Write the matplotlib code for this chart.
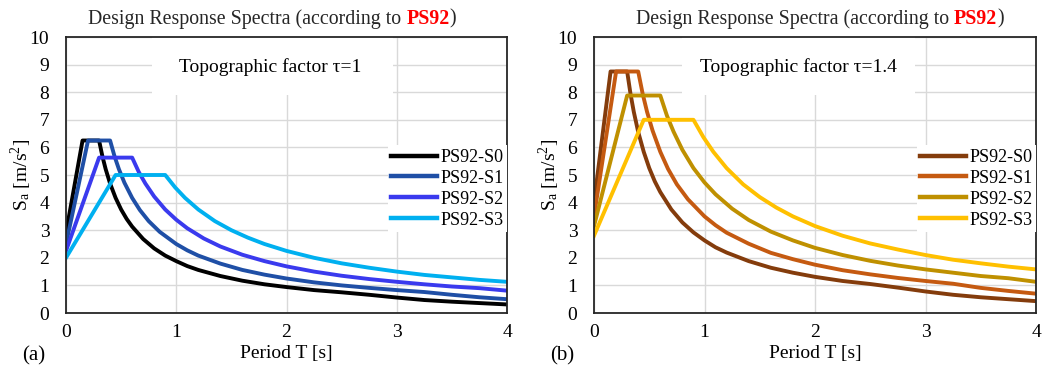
import matplotlib
matplotlib.use('Agg')
import matplotlib.pyplot as plt
from matplotlib.patches import Rectangle
from matplotlib.offsetbox import TextArea, HPacker, AnchoredOffsetbox

plt.rcParams['font.family'] = ['Liberation Serif', 'DejaVu Serif']
plt.rcParams['mathtext.fontset'] = 'stix'

# period values (same for both panels)
T_S0 = [0, 0.15, 0.30, 0.33, 0.36, 0.40, 0.45, 0.50, 0.55, 0.60, 0.70, 0.80, 0.90, 1.0, 1.1, 1.2, 1.4, 1.6, 1.8, 2.0, 2.25, 2.5, 2.75, 3.0, 3.25, 3.5, 3.75, 4.0]
T_S1 = [0, 0.2, 0.4, 0.44, 0.48, 0.53, 0.6, 0.67, 0.75, 0.85, 1.0, 1.1, 1.2, 1.4, 1.6, 1.8, 2.0, 2.25, 2.5, 2.75, 3.0, 3.25, 3.5, 3.75, 4.0]
T_S2 = [0, 0.3, 0.6, 0.66, 0.72, 0.8, 0.9, 1.0, 1.1, 1.25, 1.4, 1.6, 1.8, 2.0, 2.25, 2.5, 2.75, 3.0, 3.25, 3.5, 3.75, 4.0]
T_S3 = [0, 0.45, 0.9, 0.99, 1.08, 1.2, 1.35, 1.5, 1.65, 1.8, 2.0, 2.25, 2.5, 2.75, 3.0, 3.25, 3.5, 3.75, 4.0]

# (a) topographic factor 1
Sa_a_S0 = [2.9, 6.25, 6.25, 5.68, 5.21, 4.69, 4.17, 3.75, 3.41, 3.13, 2.68, 2.34, 2.08, 1.88, 1.70, 1.56, 1.34, 1.17, 1.04, 0.94, 0.83, 0.75, 0.66, 0.56, 0.47, 0.41, 0.36, 0.31]
Sa_a_S1 = [2.5, 6.25, 6.25, 5.68, 5.21, 4.72, 4.17, 3.73, 3.33, 2.94, 2.5, 2.27, 2.08, 1.79, 1.56, 1.39, 1.25, 1.11, 1.0, 0.91, 0.83, 0.76, 0.66, 0.57, 0.5]
Sa_a_S2 = [2.25, 5.63, 5.63, 5.11, 4.69, 4.22, 3.75, 3.38, 3.07, 2.7, 2.41, 2.11, 1.88, 1.69, 1.5, 1.35, 1.23, 1.13, 1.04, 0.96, 0.9, 0.81]
Sa_a_S3 = [2.0, 5.0, 5.0, 4.55, 4.17, 3.75, 3.33, 3.0, 2.73, 2.5, 2.25, 2.0, 1.8, 1.64, 1.5, 1.38, 1.29, 1.2, 1.13]

# (b) topographic factor 1.4
Sa_b_S0 = [4.0, 8.75, 8.75, 7.95, 7.29, 6.56, 5.84, 5.25, 4.77, 4.38, 3.75, 3.28, 2.92, 2.63, 2.38, 2.19, 1.88, 1.64, 1.46, 1.31, 1.16, 1.05, 0.92, 0.78, 0.66, 0.57, 0.5, 0.43]
Sa_b_S1 = [3.5, 8.75, 8.75, 7.95, 7.29, 6.61, 5.84, 5.22, 4.66, 4.12, 3.5, 3.18, 2.91, 2.51, 2.18, 1.95, 1.75, 1.55, 1.4, 1.27, 1.16, 1.06, 0.91, 0.8, 0.7]
Sa_b_S2 = [3.15, 7.88, 7.88, 7.15, 6.57, 5.91, 5.25, 4.73, 4.3, 3.78, 3.37, 2.95, 2.63, 2.36, 2.1, 1.89, 1.72, 1.58, 1.46, 1.34, 1.26, 1.13]
Sa_b_S3 = [2.8, 7.0, 7.0, 6.37, 5.84, 5.25, 4.66, 4.2, 3.82, 3.5, 3.15, 2.8, 2.52, 2.3, 2.1, 1.93, 1.8, 1.68, 1.58]

labels = ['PS92-S0', 'PS92-S1', 'PS92-S2', 'PS92-S3']
colors_a = ['#000000', '#1F4FA6', '#3A3AEE', '#00B0F0']
colors_b = ['#843C0C', '#C55A11', '#BF9000', '#FFC000']

W, H = 1053, 374
fig = plt.figure(figsize=(W / 100, H / 100), dpi=100)
ax_a = fig.add_axes([66 / W, 1 - 313 / H, 441 / W, 276 / H])
ax_b = fig.add_axes([594 / W, 1 - 313 / H, 442 / W, 276 / H])


def drawPanel(ax, Sa_list, colors, note, tag, title_x, note_box):
    T_list = [T_S0, T_S1, T_S2, T_S3]
    for T, Sa, c, lab in zip(T_list, Sa_list, colors, labels):
        ax.plot(T, Sa, color=c, lw=2.8, label=lab)
    ax.set_xlim(0, 4)
    ax.set_ylim(0, 10)
    ax.set_xticks(range(0, 5))
    ax.set_yticks(range(0, 11))
    ax.grid(True, color='#D9D9D9', lw=1.0)
    ax.set_axisbelow(True)
    ax.tick_params(length=0, labelsize=14)
    ax.tick_params(axis='y', pad=12)
    ax.tick_params(axis='x', pad=8)
    for s in ax.spines.values():
        s.set_color('#262626')
        s.set_linewidth(1.3)
    ax.set_xlabel('Period T [s]', fontsize=14, labelpad=3)
    ax.set_ylabel(r'S$_\mathregular{a}$ [m/s$^\mathregular{2}$]', fontsize=14, labelpad=-3)
    # white patch behind the note (hides gridlines like in the original)
    ax.add_patch(Rectangle((note_box[0], 0.79), note_box[1] - note_box[0], 0.21,
                           transform=ax.transAxes, facecolor='white', edgecolor='none', zorder=1.5))
    ax.text(1.85, 8.9, note, fontsize=14, ha='center', va='center', zorder=3)
    leg = ax.legend(loc='center right', bbox_to_anchor=(1.0, 0.45), fontsize=13,
                    handlelength=2.5, handletextpad=0.2, labelspacing=0.22,
                    borderaxespad=0.0, borderpad=0.2, fancybox=False,
                    framealpha=1, edgecolor='none')
    for ln in leg.get_lines():
        ln.set_linewidth(3.2)
    # title with red PS92
    parts = [TextArea('Design Response Spectra (according to ', textprops=dict(fontsize=14.3, color='#262626')),
             TextArea('PS92', textprops=dict(fontsize=14.3, color='#FF0000', fontweight='bold')),
             TextArea(')', textprops=dict(fontsize=14.3, color='#262626'))]
    box = HPacker(children=parts, pad=0, sep=0, align='baseline')
    anch = AnchoredOffsetbox(loc='lower center', child=box, frameon=False,
                             bbox_to_anchor=(title_x, 1.0), bbox_transform=ax.transAxes,
                             borderpad=0.2)
    ax.add_artist(anch)
    ax.text(-0.1, -0.12, tag, transform=ax.transAxes, fontsize=15, ha='left', va='top')


drawPanel(ax_a, [Sa_a_S0, Sa_a_S1, Sa_a_S2, Sa_a_S3], colors_a,
          'Topographic factor τ=1', '(a)', 0.468, (0.195, 0.741))
drawPanel(ax_b, [Sa_b_S0, Sa_b_S1, Sa_b_S2, Sa_b_S3], colors_b,
          'Topographic factor τ=1.4', '(b)', 0.511, (0.199, 0.726))

fig.savefig('out.png', dpi=100)
